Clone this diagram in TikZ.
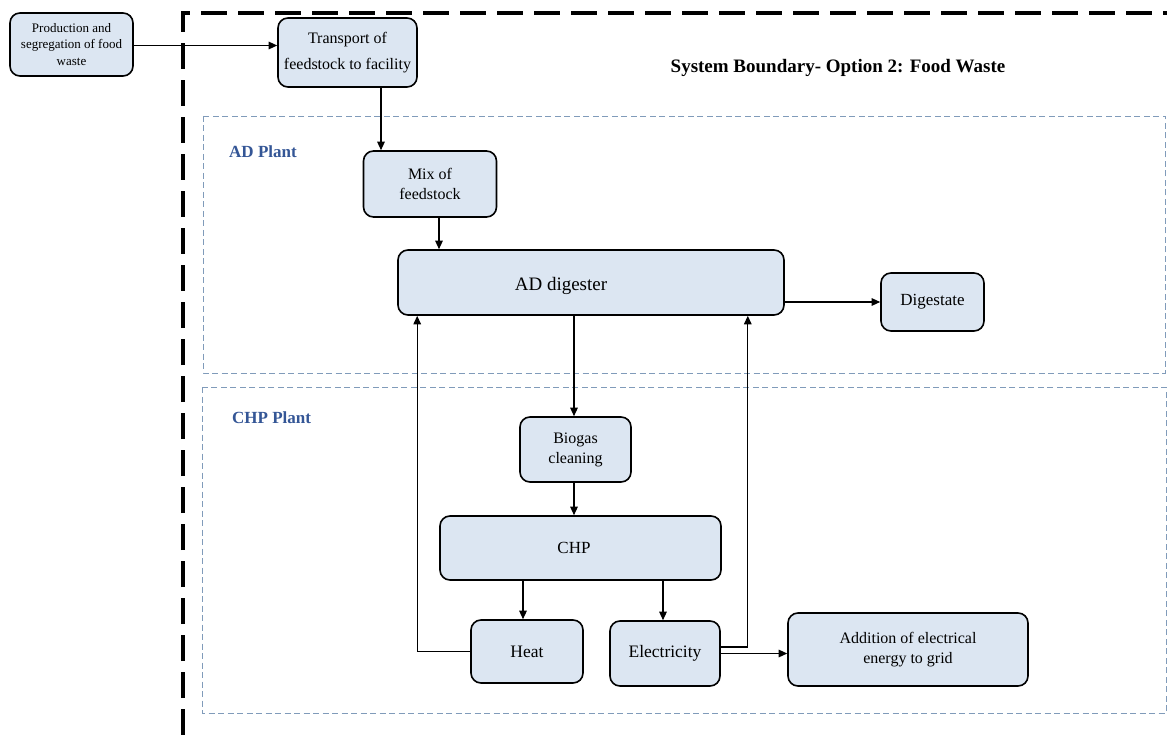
\documentclass[tikz,border=0pt]{standalone}
\usepackage{fontspec}
\setmainfont{Liberation Serif}
\usetikzlibrary{arrows.meta}
\definecolor{boxfill}{RGB}{220,230,242}
\definecolor{regionline}{RGB}{128,155,186}
\definecolor{labelblue}{RGB}{52,86,150}
\tikzset{
  box/.style={draw=black, line width=1.6pt, fill=boxfill, rounded corners=10pt, inner sep=0pt, align=center, font=\fontsize{16}{20}\selectfont},
  arr/.style={line width=1.3pt, -{Triangle[length=8.5pt,width=7.5pt]}},
  region/.style={draw=regionline, line width=0.8pt, dash pattern=on 6pt off 3.5pt},
  boundary/.style={line width=3.6pt, dash pattern=on 26pt off 11pt},
  plantlabel/.style={font=\bfseries\fontsize{17}{20}\selectfont, text=labelblue, anchor=base west, inner sep=0pt}
}
\begin{document}
\begin{tikzpicture}[x=1pt,y=-1pt]
\fill[white] (0,0) rectangle (1167,735);
\useasboundingbox (0,0) rectangle (1167,735);
% system boundary
\draw[boundary] (183,735) -- (183,13) -- (1172,13);
% regions
\draw[region] (203,116) rectangle (1165,373);
\draw[region] (202,387) rectangle (1166,713);
\node[plantlabel] (adlabel) at (229,158) {AD Plant};
\node[plantlabel] (chplabel) at (232,423) {CHP Plant};
\node[font=\bfseries\fontsize{19}{22}\selectfont, anchor=base, inner sep=0pt] (title) at (838,73) {System Boundary- Option 2: Food Waste};
% nodes
\node[box, minimum width=123pt, minimum height=63pt, font=\fontsize{13}{16.5}\selectfont] (prod) at (71.5,44.5) {Production and\\segregation of food\\waste};
\node[box, minimum width=139pt, minimum height=69pt, font=\fontsize{16}{26}\selectfont] (trans) at (347.5,52.5) {Transport of\\feedstock to facility};
\node[box, minimum width=133pt, minimum height=66pt, font=\fontsize{16}{19.5}\selectfont] (mix) at (430,184) {Mix of\\feedstock};
\node[box, minimum width=386pt, minimum height=65pt] (ad) at (591,282.5) {};
\node[inner sep=0pt, font=\fontsize{19}{22}\selectfont] (adtext) at (561,286) {AD digester};
\node[box, minimum width=103pt, minimum height=58pt, font=\fontsize{17}{20}\selectfont] (dig) at (932.5,302) {Digestate};
\node[box, minimum width=111pt, minimum height=65pt, font=\fontsize{16}{20}\selectfont] (bio) at (575.5,449.5) {Biogas\\cleaning};
\node[box, minimum width=281pt, minimum height=64pt] (chp) at (580.5,548) {};
\node[inner sep=0pt, font=\fontsize{17}{20}\selectfont] (chptext) at (574,548) {CHP};
\node[box, minimum width=112pt, minimum height=63pt, font=\fontsize{17.5}{20}\selectfont] (heat) at (527,651.5) {Heat};
\node[box, minimum width=110pt, minimum height=65pt, font=\fontsize{17.5}{20}\selectfont] (elec) at (665,653.5) {Electricity};
\node[box, minimum width=240pt, minimum height=73pt, font=\fontsize{16}{20}\selectfont] (grid) at (908,649.5) {Addition of electrical\\energy to grid};
% connectors
\draw[arr] ([yshift=-1pt]prod.east) -- ([yshift=-1pt]prod.east -| trans.west);
\draw[arr] ([xshift=33.5pt]trans.south) -- ([xshift=33.5pt]trans.south |- mix.north);
\draw[arr] ([xshift=9pt]mix.south) -- ([xshift=9pt]mix.south |- ad.north);
\draw[arr] (dig.west -| ad.east) -- (dig.west);
\draw[arr] ([xshift=-1.5pt]bio.north |- ad.south) -- ([xshift=-1.5pt]bio.north);
\draw[arr] ([xshift=-1.5pt]bio.south) -- ([xshift=-1.5pt]bio.south |- chp.north);
\draw[arr] ([xshift=-4pt]heat.north |- chp.south) -- ([xshift=-4pt]heat.north);
\draw[arr] ([xshift=-2pt]elec.north |- chp.south) -- ([xshift=-2pt]elec.north);
\draw[arr] (heat.west) -| ([xshift=20pt]ad.south west);
\draw[arr] ([yshift=6.5pt]elec.east) -| ([xshift=-37pt]ad.south east);
\draw[arr] (elec.east) -- (elec.east -| grid.west);
\end{tikzpicture}
\end{document}
